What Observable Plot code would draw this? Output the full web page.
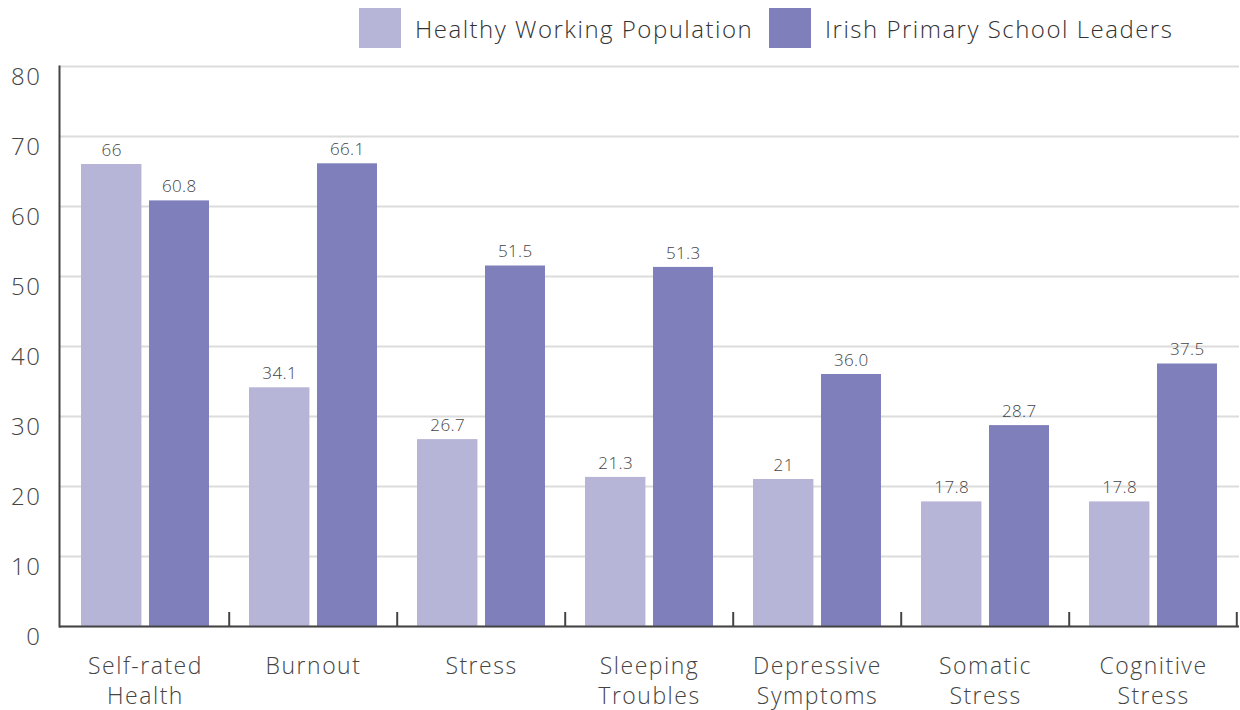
<!DOCTYPE html>
<html>
<head>
<meta charset="utf-8">
<script src="https://cdn.jsdelivr.net/npm/d3@7"></script>
<script src="https://cdn.jsdelivr.net/npm/@observablehq/plot@0.6"></script>
<style>
  html, body { margin: 0; padding: 0; background: #fff; }
  body { width: 1240px; height: 710px; overflow: hidden; font-family: "Open Sans", Lato, sans-serif; font-weight: 300; }
  #legend { position: relative; height: 56px; }
  .item { position: absolute; top: 8px; display: flex; align-items: center; }
  .sw { width: 42px; height: 40px; }
  .lab { margin-left: 14px; font-size: 24px; color: #333; letter-spacing: 1.5px; }
  svg text { font-weight: 300; }
  g[aria-label="x-axis tick label"] text { letter-spacing: 1.5px; }
  g[aria-label="y-axis tick label"] text { letter-spacing: 1.6px; }
  g.barlab text { letter-spacing: 0.4px; }
</style>
</head>
<body>
<div id="legend"></div>
<div id="chart"></div>
<script>
const categories = ["Self-rated\nHealth", "Burnout", "Stress", "Sleeping\nTroubles", "Depressive\nSymptoms", "Somatic\nStress", "Cognitive\nStress"];
const seriesNames = ["Healthy Working Population", "Irish Primary School Leaders"];
const healthyValues = [66, 34.1, 26.7, 21.3, 21, 17.8, 17.8];
const leaderValues = [60.8, 66.1, 51.5, 51.3, 36.0, 28.7, 37.5];
const healthyLabels = ["66", "34.1", "26.7", "21.3", "21", "17.8", "17.8"];
const leaderLabels = ["60.8", "66.1", "51.5", "51.3", "36.0", "28.7", "37.5"];
const yTicks = [0, 10, 20, 30, 40, 50, 60, 70, 80];
const colors = ["#b6b5d8", "#7f7fbc"];

// legend
const legend = document.getElementById("legend");
const legendLeft = [359, 769];
seriesNames.forEach((s, i) => {
  const d = document.createElement("div");
  d.className = "item";
  d.style.left = legendLeft[i] + "px";
  d.innerHTML = `<div class="sw" style="background:${colors[i]}"></div><div class="lab">${s}</div>`;
  legend.appendChild(d);
});

const W = 1240, H = 654;
const mL = 59, mR = 1, mT = 10, mB = 84;
const step = (W - mL - mR) / categories.length;
const barW = 61, outer = 20, gap = 7;

const rows = categories.map((c, i) => ({
  cat: c, h: healthyValues[i], l: leaderValues[i], hl: healthyLabels[i], ll: leaderLabels[i]
}));

const offH = -(step / 2 - outer - barW / 2);
const offL = (step / 2 - outer - barW / 2);

const chart = Plot.plot({
  width: W, height: H,
  marginLeft: mL, marginRight: mR, marginTop: mT, marginBottom: mB,
  style: { fontFamily: "'Open Sans', Lato, sans-serif", background: "#fff" },
  x: { domain: categories, padding: 0, label: null },
  y: { domain: [0, 80], label: null },
  marks: [
    Plot.gridY(yTicks, { stroke: "#dcdcdc", strokeOpacity: 1, strokeWidth: 2 }),
    Plot.barY(rows, { x: "cat", y: "h", fill: colors[0], insetLeft: outer, insetRight: step - outer - barW }),
    Plot.barY(rows, { x: "cat", y: "l", fill: colors[1], insetLeft: outer + barW + gap, insetRight: outer }),
    Plot.text(rows, { x: "cat", y: "h", text: "hl", dx: offH, dy: -14, fontSize: 17, fill: "#444", className: "barlab" }),
    Plot.text(rows, { x: "cat", y: "l", text: "ll", dx: offL, dy: -14, fontSize: 17, fill: "#444", className: "barlab" }),
    Plot.ruleX(categories.slice(1), { x: d => d, dx: -step / 2, y1: 0, y2: 2, stroke: "#444", strokeWidth: 2 }),
    Plot.ruleX(categories.slice(-1), { x: d => d, dx: step / 2 - 1, y1: 0, y2: 2, stroke: "#444", strokeWidth: 2 }),
    Plot.ruleY([0], { stroke: "#444", strokeWidth: 2 }),
    Plot.frame({ anchor: "left", stroke: "#444", strokeWidth: 2 }),
    Plot.axisY({ ticks: yTicks, tickSize: 0, tickPadding: 18, fontSize: 24, fill: "#444", dy: 11, tickFormat: d => String(d) }),
    Plot.axisX({ tickSize: 0, tickPadding: 26, fontSize: 23, fill: "#444", lineHeight: 1.3, tickFormat: d => d, label: null })
  ]
});
document.getElementById("chart").appendChild(chart);
</script>
</body>
</html>
